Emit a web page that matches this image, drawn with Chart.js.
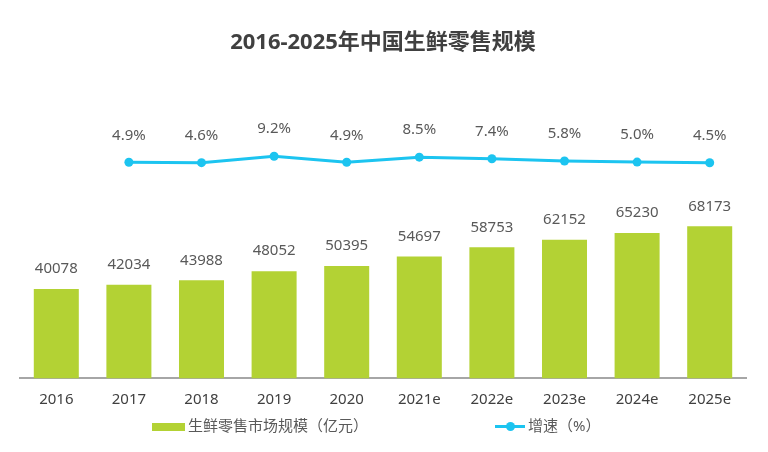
<!DOCTYPE html>
<html>
<head>
<meta charset="utf-8">
<script src="https://cdn.jsdelivr.net/npm/chart.js@4/dist/chart.umd.min.js"></script>
<style>
  body { margin: 0; background: #fff; font-family: "Noto Sans", "Noto Sans CJK SC", sans-serif; }
  #wrap { position: relative; width: 768px; height: 452px; }
  #legend { position: absolute; top: 413px; left: 0; width: 768px; height: 24px; font-size: 15px; color: #595959; }
  .item { position: absolute; top: 0; height: 24px; line-height: 24px; white-space: nowrap; }
  .swatch { display: inline-block; width: 33px; height: 8px; background: #b3d234; vertical-align: middle; margin-right: 3px; }
  .lineKey { display: inline-block; position: relative; width: 30px; height: 3px; background: #1cc4f0; vertical-align: middle; margin-right: 3px; }
  .lineKey i { position: absolute; left: 11px; top: -3px; width: 9px; height: 9px; border-radius: 50%; background: #1cc4f0; }
</style>
</head>
<body>
<div id="wrap">
  <canvas id="chart" width="768" height="452"></canvas>
  <div id="legend"></div>
</div>
<script>
  // data
  const years = ['2016', '2017', '2018', '2019', '2020', '2021e', '2022e', '2023e', '2024e', '2025e'];
  const marketSize = [40078, 42034, 43988, 48052, 50395, 54697, 58753, 62152, 65230, 68173];
  const growthRate = [null, 4.9, 4.6, 9.2, 4.9, 8.5, 7.4, 5.8, 5.0, 4.5];
  const seriesNames = ['生鲜零售市场规模（亿元）', '增速（%）'];
  const titleText = '2016-2025年中国生鲜零售规模';

  const barColor = '#b3d234';
  const lineColor = '#1cc4f0';
  const textColor = '#595959';
  const fontFamily = '"Noto Sans", "Noto Sans CJK SC", sans-serif';

  // value labels above bars and points
  const valueLabels = {
    id: 'valueLabels',
    afterDatasetsDraw(chart) {
      const ctx = chart.ctx;
      ctx.save();
      ctx.font = '15px ' + fontFamily;
      ctx.fillStyle = textColor;
      ctx.textAlign = 'center';
      ctx.textBaseline = 'middle';
      chart.getDatasetMeta(1).data.forEach((bar, i) => {
        ctx.fillText(String(marketSize[i]), bar.x, bar.y - 20);
      });
      chart.getDatasetMeta(0).data.forEach((pt, i) => {
        if (growthRate[i] === null) return;
        ctx.fillText(growthRate[i].toFixed(1) + '%', pt.x, pt.y - 27);
      });
      ctx.restore();
    }
  };

  const ctx = document.getElementById('chart').getContext('2d');
  const chart = new Chart(ctx, {
    type: 'bar',
    data: {
      labels: years,
      datasets: [
        {
          type: 'line',
          label: seriesNames[1],
          data: growthRate,
          yAxisID: 'yRate',
          borderColor: lineColor,
          backgroundColor: lineColor,
          borderWidth: 3,
          pointRadius: 4.5,
          pointBackgroundColor: lineColor,
          pointBorderWidth: 0,
          tension: 0,
          spanGaps: false
        },
        {
          type: 'bar',
          label: seriesNames[0],
          data: marketSize,
          yAxisID: 'ySize',
          backgroundColor: barColor,
          barPercentage: 0.62,
          categoryPercentage: 1
        }
      ]
    },
    options: {
      responsive: false,
      animation: false,
      layout: { padding: { top: 30, left: 20, right: 22, bottom: 31.6 } },
      plugins: {
        legend: { display: false },
        tooltip: { enabled: false },
        title: {
          display: true,
          text: titleText,
          color: '#404040',
          font: { size: 22, weight: 'bold', family: fontFamily },
          padding: { top: 0, bottom: 43.2 }
        }
      },
      scales: {
        x: {
          grid: { display: false, drawTicks: false },
          border: { display: true, color: '#a6a6a6', width: 2 },
          ticks: {
            color: '#404040',
            padding: 12,
            font: { size: 15, family: fontFamily }
          }
        },
        ySize: { display: false, min: 0, max: 125000 },
        yRate: { display: false, min: -149, max: 49.5 }
      }
    },
    plugins: [valueLabels]
  });

  // legend built from the dataset names
  const legend = document.getElementById('legend');
  legend.innerHTML =
    '<span class="item" style="left:152px"><span class="swatch"></span>' + seriesNames[0] + '</span>' +
    '<span class="item" style="left:495px"><span class="lineKey"><i></i></span>' + seriesNames[1] + '</span>';
</script>
</body>
</html>
